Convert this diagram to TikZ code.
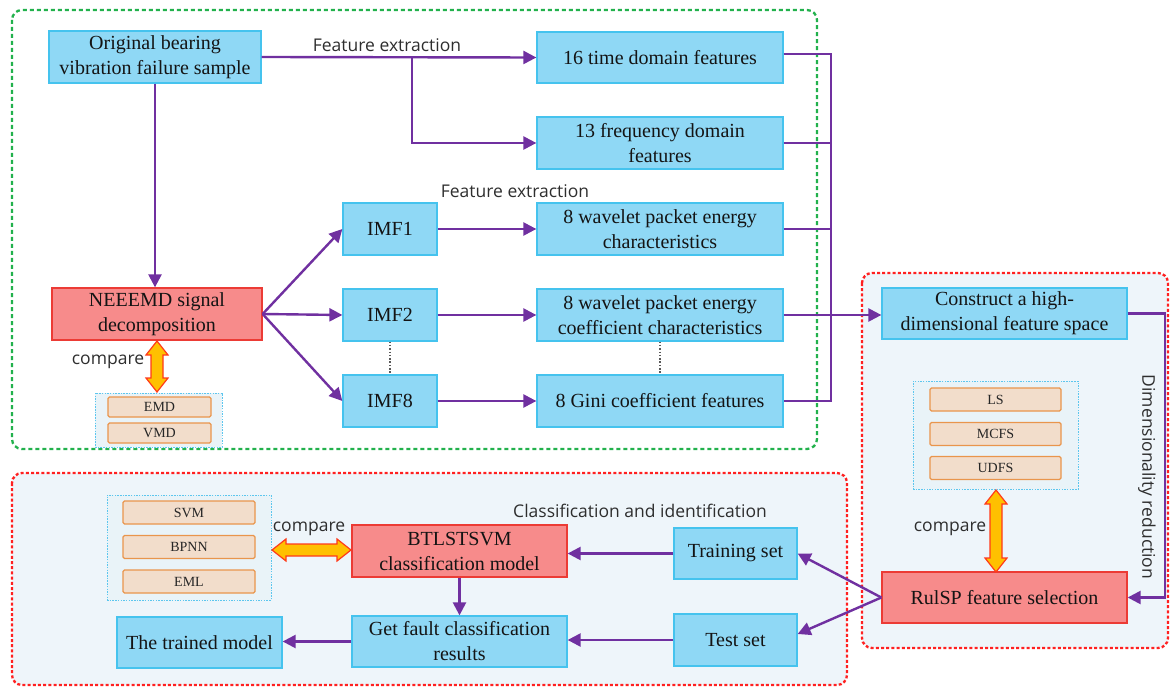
\documentclass[tikz,border=0pt]{standalone}
\usepackage{fontspec}
\setmainfont{Liberation Serif}
\newfontfamily\lblfont{Open Sans}
\usetikzlibrary{arrows.meta,calc}
\definecolor{boxblue}{HTML}{8FD8F5}
\definecolor{boxblueb}{HTML}{45C3EE}
\definecolor{boxred}{HTML}{F78B8B}
\definecolor{boxredb}{HTML}{EC3B35}
\definecolor{beige}{HTML}{F2DDCB}
\definecolor{beigeb}{HTML}{E9954C}
\definecolor{arrpurple}{HTML}{7030A0}
\definecolor{grn}{HTML}{22B14C}
\definecolor{reddash}{HTML}{FF2020}
\definecolor{panel}{HTML}{EEF5FA}
\definecolor{grpfill}{HTML}{E9F3F8}
\definecolor{grpline}{HTML}{5CC6EE}
\definecolor{gold}{HTML}{FFC000}
\definecolor{goldb}{HTML}{FF3A1A}
\definecolor{lbltext}{HTML}{2E2E2E}
\tikzset{
  bluebox/.style={draw=boxblueb, fill=boxblue, line width=1.3pt, inner sep=0pt, align=center,
    font=\fontsize{20}{25}\selectfont, text=black!92},
  redbox/.style={bluebox, draw=boxredb, fill=boxred},
  smallbox/.style={draw=beigeb, fill=beige, line width=1.3pt, rounded corners=1.5pt, inner sep=0pt,
    minimum width=#1, minimum height=23pt, font=\fontsize{14}{16}\selectfont, text=black!85},
  grpbox/.style={draw=grpline, fill=grpfill, line width=0.9pt, dash pattern=on 1.5pt off 1.2pt, inner sep=0pt},
  conn/.style={draw=arrpurple, line width=2.4pt, -{Triangle[length=13pt,width=13pt]}},
  line/.style={draw=arrpurple, line width=2.4pt},
  lbl/.style={font=\lblfont\fontsize{17.5}{20}\selectfont, text=lbltext, inner sep=0pt},
  fat/.style={fill=gold, draw=goldb, line width=1.2pt, line join=miter},
  grnpanel/.style={draw=grn, line width=2.3pt, dash pattern=on 4pt off 3pt, rounded corners=10pt},
  redpanel/.style={draw=reddash, fill=panel, line width=2.3pt, dash pattern=on 3pt off 2.2pt, rounded corners=10pt},
  dotline/.style={draw=black!65, line width=1.3pt, dash pattern=on 1.5pt off 1.8pt}
}
% vertical fat double arrow: x, ytop, ybottom
\newcommand{\vfat}[3]{\path[fat] ({#1},{#2}) -- ({#1+11},{#2+14}) -- ({#1+6},{#2+14}) -- ({#1+6},{#3-14}) -- ({#1+11},{#3-14}) -- ({#1},{#3}) -- ({#1-11},{#3-14}) -- ({#1-6},{#3-14}) -- ({#1-6},{#2+14}) -- ({#1-11},{#2+14}) -- cycle;}
% horizontal fat double arrow: y, xleft, xright
\newcommand{\hfat}[3]{\path[fat] ({#2},{#1}) -- ({#2+14},{#1-11}) -- ({#2+14},{#1-6}) -- ({#3-14},{#1-6}) -- ({#3-14},{#1-11}) -- ({#3},{#1}) -- ({#3-14},{#1+11}) -- ({#3-14},{#1+6}) -- ({#2+14},{#1+6}) -- ({#2+14},{#1+11}) -- cycle;}
\begin{document}
\begin{tikzpicture}[x=1pt,y=-1pt]
\useasboundingbox (0,0) rectangle (1170,687);
% panels
\path[grnpanel] (12,10) rectangle (817,449);
\path[redpanel] (12,473) rectangle (847,685);
\path[redpanel] (862,273) rectangle (1168,648);

% top section nodes
\node[bluebox, minimum width=212pt, minimum height=52pt] (orig) at (155,57) {Original bearing\\vibration failure sample};
\node[bluebox, minimum width=246pt, minimum height=51pt] (time) at (660,57.5) {16 time domain features};
\node[bluebox, minimum width=246pt, minimum height=52pt] (freq) at (660,143) {13 frequency domain\\features};
\node[bluebox, minimum width=94pt, minimum height=52pt] (imf1) at (390,229) {IMF1};
\node[bluebox, minimum width=94pt, minimum height=52pt] (imf2) at (390,315) {IMF2};
\node[bluebox, minimum width=94pt, minimum height=52pt] (imf8) at (390,401) {IMF8};
\node[bluebox, minimum width=246pt, minimum height=52pt] (w1) at (660,229) {8 wavelet packet energy\\characteristics};
\node[bluebox, minimum width=246pt, minimum height=52pt] (w2) at (660,315) {8 wavelet packet energy\\coefficient characteristics};
\node[bluebox, minimum width=246pt, minimum height=52pt] (gini) at (660,401) {8 Gini coefficient features};
\node[redbox, minimum width=210pt, minimum height=52pt] (neeemd) at (157,314) {NEEEMD signal\\decomposition};
\node[grpbox, minimum width=127pt, minimum height=54pt] (emdgrp) at (158.5,420) {};
\node[smallbox=103pt, minimum height=20pt] (emd) at (159.5,407) {EMD};
\node[smallbox=103pt, minimum height=20pt] (vmd) at (159.5,433) {VMD};

\node[lbl] (fe1) at (387,45) {Feature extraction};
\node[lbl] (fe2) at (515,191) {Feature extraction};
\node[lbl] (cmp1) at (108,362) {compare};

% right section
\node[bluebox, minimum width=245pt, minimum height=51pt] (construct) at (1004.5,313.5) {Construct a high-\\dimensional feature space};
\node[grpbox, minimum width=165pt, minimum height=108pt] (lsgrp) at (995.5,435) {};
\node[smallbox=131pt] (ls) at (995.5,399.5) {LS};
\node[smallbox=131pt] (mcfs) at (995.5,434) {MCFS};
\node[smallbox=131pt] (udfs) at (995.5,468) {UDFS};
\node[redbox, minimum width=245pt, minimum height=51pt] (rulsp) at (1004.5,597.5) {RulSP feature selection};
\node[lbl] (cmp2) at (950,529) {compare};
\node[lbl, rotate=-90] (dimred) at (1147,477) {Dimensionality reduction};

% bottom section
\node[grpbox, minimum width=164pt, minimum height=105pt] (svmgrp) at (189,547.5) {};
\node[smallbox=132pt] (svm) at (189,512.5) {SVM};
\node[smallbox=132pt] (bpnn) at (189,547) {BPNN};
\node[smallbox=132pt] (eml) at (189,581.5) {EML};
\node[lbl] (cmp3) at (309,529) {compare};
\node[redbox, minimum width=215pt, minimum height=52pt] (btl) at (459.5,551) {BTLSTSVM\\classification model};
\node[bluebox, minimum width=215pt, minimum height=51pt] (fault) at (459.5,641.5) {Get fault classification\\results};
\node[bluebox, minimum width=165pt, minimum height=51pt] (trained) at (199.5,642.5) {The trained model};
\node[bluebox, minimum width=123pt, minimum height=51pt] (train) at (735.5,553.5) {Training set};
\node[bluebox, minimum width=123pt, minimum height=52pt] (test) at (735.5,640) {Test set};
\node[lbl] (cls) at (640,511) {Classification and identification};

% connectors top
\coordinate (br) at (412,57);
\draw[conn] (orig.east) -- (time.west);
\draw[conn] (br) |- (freq.west);
\draw[conn] (orig.south) -- (orig.south |- neeemd.north);
\draw[conn] (neeemd.east) -- (imf1.west);
\draw[conn] (neeemd.east) -- (imf2.west);
\draw[conn] (neeemd.east) -- (imf8.west);
\draw[conn] (imf1.east) -- (w1.west);
\draw[conn] (imf2.east) -- (w2.west);
\draw[conn] (imf8.east) -- (gini.west);
\draw[dotline] (imf2.south) -- (imf8.north);
\draw[dotline] (w2.south) -- (w2.south |- gini.north);
\coordinate (busT) at (831,54);
\coordinate (busB) at (831,401);
\draw[line] (time.east |- busT) -- (busT) -- (busB) -- (gini.east);
\draw[line] (freq.east) -- (freq.east -| busT);
\draw[line] (w1.east) -- (w1.east -| busT);
\draw[conn] (w2.east) -- (w2.east -| construct.west);
\coordinate (rturn) at (1165,313.5);
\draw[conn] (construct.east) -- (rturn) |- (rulsp.east);

% connectors bottom
\draw[conn] (rulsp.west) -- (train.east);
\draw[conn] (rulsp.west) -- ($(test.east)+(0,-6)$);
\draw[conn] (train.west) -- (train.west -| btl.east);
\draw[conn] (test.west) -- (test.west -| fault.east);
\draw[conn] (btl.south) -- (fault.north);
\draw[conn] (fault.west) -- (fault.west -| trained.east);

% fat compare arrows
\vfat{157}{341}{392}
\vfat{996}{490}{572}
\hfat{550}{272}{351}
\end{tikzpicture}
\end{document}
